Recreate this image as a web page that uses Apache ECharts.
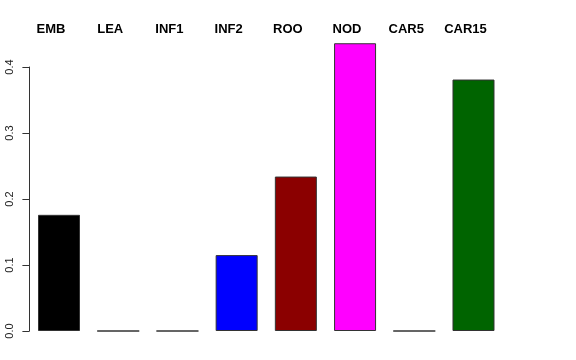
<!DOCTYPE html>
<html>
<head>
<meta charset="utf-8">
<script src="https://cdn.jsdelivr.net/npm/echarts@6/dist/echarts.min.js"></script>
<style>html,body{margin:0;padding:0;background:#fff;}#c{width:576px;height:360px;}</style>
</head>
<body>
<div id="c"></div>
<script>
var categories = ['EMB', 'LEA', 'INF1', 'INF2', 'ROO', 'NOD', 'CAR5', 'CAR15'];
var values = [0.176, 0, 0, 0.115, 0.234, 0.436, 0, 0.381];
var colors = ['#000000', '#ff0000', '#00cd00', '#0000ff', '#8b0000', '#ff00ff', '#ffa500', '#006400'];
var yTicks = [0, 0.1, 0.2, 0.3, 0.4];

var chart = echarts.init(document.getElementById('c'), null, {renderer: 'canvas'});
chart.setOption({
  animation: false,
  backgroundColor: '#ffffff',
  grid: {left: 29.4, width: 473.7, top: 67, height: 264, containLabel: false},
  xAxis: {
    type: 'category',
    position: 'top',
    data: categories,
    axisLine: {show: false},
    axisTick: {show: false},
    axisLabel: {
      show: true,
      interval: 0,
      margin: 31,
      fontSize: 13,
      fontWeight: 'bold',
      fontFamily: 'Liberation Sans, Arial, sans-serif',
      color: '#000',
      padding: [0, 16, 0, 0]
    },
    splitLine: {show: false}
  },
  yAxis: {
    type: 'value',
    min: yTicks[0],
    max: yTicks[yTicks.length - 1],
    interval: 0.1,
    axisLine: {show: true, lineStyle: {color: '#333', width: 1}},
    axisTick: {show: true, length: 7, lineStyle: {color: '#333', width: 1}},
    axisLabel: {
      rotate: 90,
      margin: 14,
      fontSize: 11,
      fontFamily: 'Liberation Sans, Arial, sans-serif',
      color: '#222',
      formatter: function (v) { return v.toFixed(1); }
    },
    splitLine: {show: false}
  },
  series: [{
    type: 'bar',
    clip: false,
    barWidth: 42,
    data: values.map(function (v, i) {
      return {value: v, itemStyle: {color: colors[i]}};
    }),
    itemStyle: {borderColor: '#333', borderWidth: 1}
  }]
});
</script>
</body>
</html>
